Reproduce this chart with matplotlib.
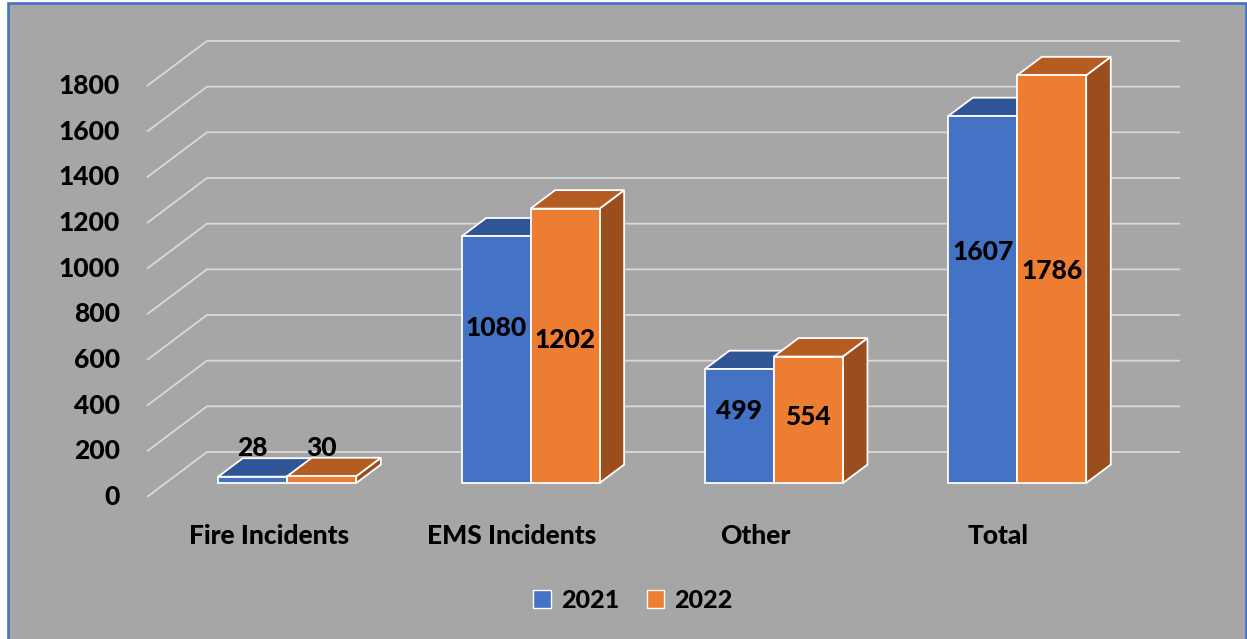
import matplotlib
matplotlib.use("Agg")
import matplotlib.pyplot as plt
from matplotlib.patches import Polygon, Rectangle, Patch

# data
categories = ["Fire Incidents", "EMS Incidents", "Other", "Total"]
years = ["2021", "2022"]
vals_2021 = [28, 1080, 499, 1607]
vals_2022 = [30, 1202, 554, 1786]
yticks = [0, 200, 400, 600, 800, 1000, 1200, 1400, 1600, 1800]

plt.rcParams["font.family"] = ["Lato", "DejaVu Sans"]
WT = 900

front_col = ["#4472C4", "#ED7D31"]
top_col = ["#2F5597", "#B45C22"]
side_col = ["#2E5090", "#9A4E1D"]
bg = "#A6A6A6"
grid_col = "#D9D9D9"
FS = 19

fig = plt.figure(figsize=(12.47, 6.39), dpi=100)
fig.patch.set_facecolor("white")

ax = fig.add_axes([0, 0, 1, 1])
ax.set_facecolor("none")
ax.axis("off")
ax.set_xlim(-1.104, 4.021)
ax.set_ylim(-621.9, 2176.7)
ax.add_patch(Rectangle((8 / 1247, -0.05), 1237.5 / 1247, 1.05 - 3 / 639,
                       transform=fig.transFigure, facecolor=bg,
                       edgecolor="#4472C4", linewidth=1.9, zorder=0, clip_on=False))

# oblique "3d" depth offsets (data units for full depth)
DX = 0.2466
DV = 197.1
z0 = 0.31      # front of the bars
zd = 0.41      # bar depth
w = 0.2836     # bar width

n = len(categories)
left, right = -0.5, n - 0.5

# back wall / side gridlines
for v in yticks:
    ax.plot([left, left + DX, right + DX], [v, v + DV, v + DV],
            color=grid_col, lw=1.3, zorder=1, solid_capstyle="butt")
    ax.text(left - 0.111, v, str(v), ha="right", va="center",
            fontsize=FS, fontweight=WT, color="black")

ec = "white"
lw = 1.3
for i in range(n):
    for s, vals in enumerate([vals_2021, vals_2022]):
        val = vals[i]
        x0 = i - w + s * w + z0 * DX
        b = z0 * DV
        t = val + b
        ddx, ddv = zd * DX, zd * DV
        side = [(x0 + w, b), (x0 + w + ddx, b + ddv), (x0 + w + ddx, t + ddv), (x0 + w, t)]
        top = [(x0, t), (x0 + w, t), (x0 + w + ddx, t + ddv), (x0 + ddx, t + ddv)]
        front = [(x0, b), (x0 + w, b), (x0 + w, t), (x0, t)]
        z = 3 + i * 2 + s
        ax.add_patch(Polygon(side, closed=True, facecolor=side_col[s], edgecolor=ec, lw=lw, zorder=z))
        ax.add_patch(Polygon(top, closed=True, facecolor=top_col[s], edgecolor=ec, lw=lw, zorder=z))
        ax.add_patch(Polygon(front, closed=True, facecolor=front_col[s], edgecolor=ec, lw=lw, zorder=z))
        if val < 150:
            ly = t + ddv + 44
        else:
            ly = b + val * (0.63 if s == 0 else 0.52)
        ax.text(x0 + w / 2, ly, str(val), ha="center", va="center",
                fontsize=FS, fontweight=WT, color="black", zorder=20)

    ax.text(i, -170, categories[i], ha="center", va="center",
            fontsize=FS, fontweight=WT, color="black")

handles = [Patch(facecolor=front_col[k], edgecolor="white", lw=1.0) for k in range(2)]
ax.legend(handles, years, loc="center", bbox_to_anchor=(633 / 1247, 1 - 600 / 639),
          bbox_transform=fig.transFigure, ncol=2, frameon=False,
          handlelength=0.7, handleheight=0.7, handletextpad=0.4, columnspacing=1.1,
          prop={"weight": WT, "size": 18})

fig.savefig("out.png", dpi=100, facecolor=fig.get_facecolor())
